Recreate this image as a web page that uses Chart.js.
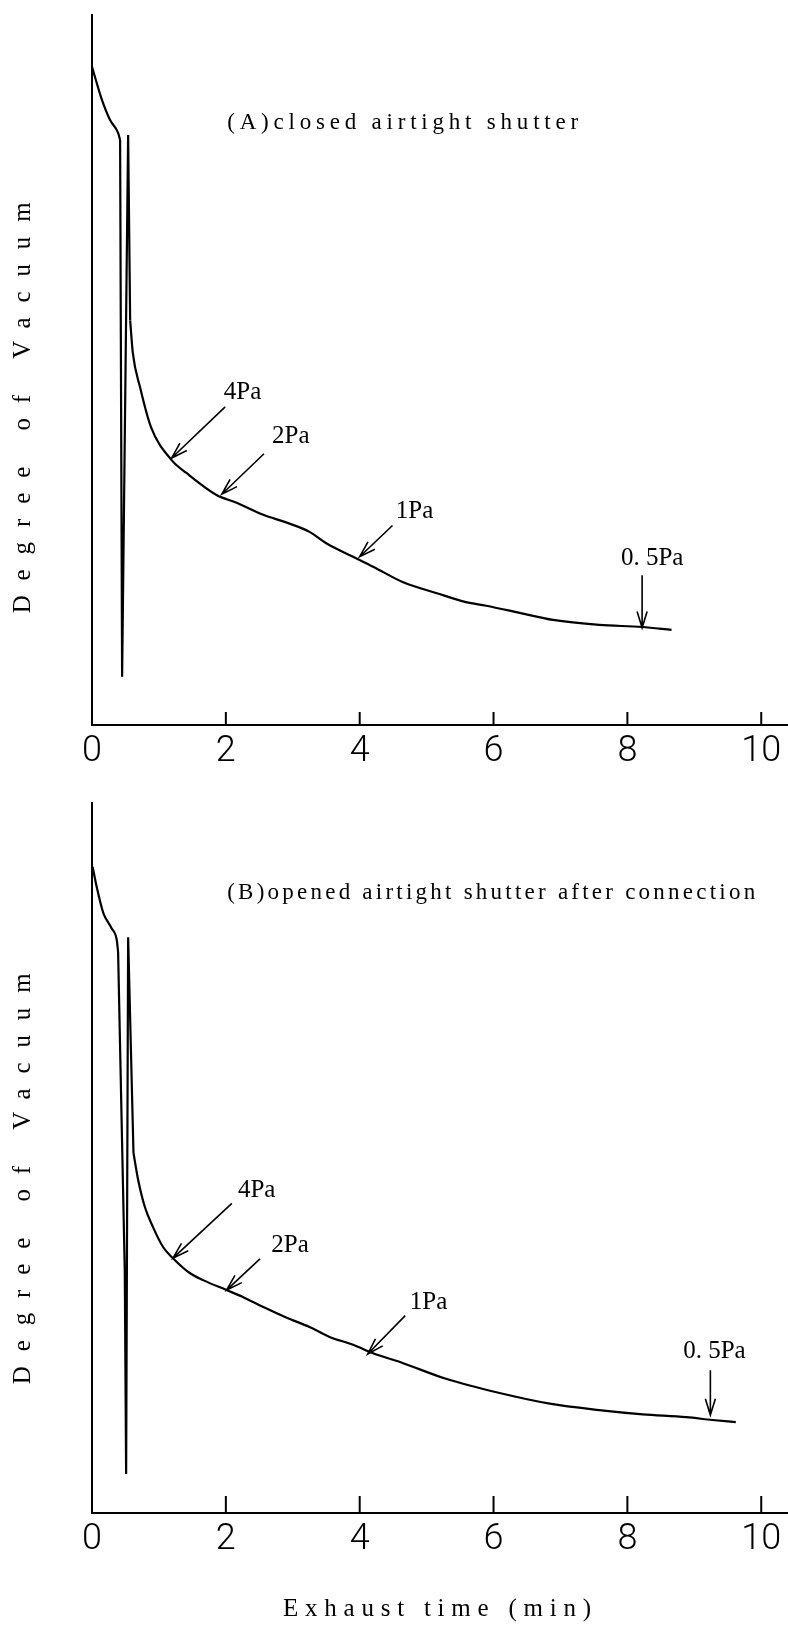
<!DOCTYPE html>
<html>
<head>
<meta charset="utf-8">
<script src="https://cdn.jsdelivr.net/npm/chart.js@4.4.0/dist/chart.umd.min.js"></script>
<style>
	html, body { margin: 0; padding: 0; background: #fff; }
	canvas { display: block; }
</style>
</head>
<body>
<canvas id="chartA" width="788" height="775"></canvas>
<canvas id="chartB" width="788" height="858"></canvas>
<script>
// exhaust time (min) / degree of vacuum (relative, 0 = x axis, 100 = top of y axis)
var timeA = [0, 0.15, 0.27, 0.39, 0.42, 0.45, 0.54, 0.57, 0.61, 0.72, 0.88, 1.19, 1.41, 1.86, 2.16, 2.56, 2.91, 3.25, 3.50, 3.90, 4.20, 4.65, 5.14, 5.59, 5.89, 6.39, 6.89, 7.58, 8.22, 8.66];
var vacuumA = [92.7, 88.0, 85.2, 83.4, 82.4, 6.8, 83.1, 57.0, 52.4, 47.5, 42.0, 37.3, 35.5, 32.4, 31.3, 29.6, 28.5, 27.2, 25.6, 23.7, 22.3, 20.1, 18.6, 17.3, 16.8, 15.8, 14.8, 14.1, 13.8, 13.4];
var spikeA = [4, 7]; // first / last index of the straight spike part

var timeB = [0.01, 0.07, 0.17, 0.29, 0.37, 0.39, 0.49, 0.51, 0.54, 0.62, 0.69, 0.79, 0.91, 1.06, 1.24, 1.46, 1.66, 2.01, 2.26, 2.56, 2.91, 3.25, 3.55, 3.90, 4.20, 4.65, 5.29, 6.09, 6.84, 7.58, 8.23, 8.88, 9.27, 9.62];
var vacuumB = [91.0, 88.2, 84.5, 82.4, 80.7, 79.0, 33.9, 5.5, 81.1, 50.7, 46.9, 43.1, 40.3, 37.5, 35.6, 33.8, 32.8, 31.4, 30.4, 29.0, 27.5, 26.2, 24.8, 23.7, 22.5, 21.1, 18.9, 16.9, 15.4, 14.5, 13.9, 13.5, 13.1, 12.8];
var spikeB = [5, 9];

var xTickValues = [0, 2, 4, 6, 8, 10];

// pressure marks: arrow tip, arrow tail, label centre (time, vacuum)
var pressureLabels = ['4Pa', '2Pa', '1Pa', '0. 5Pa'];
var tipsA = [[1.19, 37.6], [1.94, 32.5], [4.00, 23.7], [8.22, 13.7]];
var tailsA = [[1.99, 44.8], [2.57, 38.2], [4.49, 28.1], [8.22, 21.1]];
var spotsA = [[2.25, 46.9], [2.97, 40.6], [4.82, 30.1], [8.37, 23.4]];
var tipsB = [[1.21, 35.9], [2.01, 31.4], [4.12, 22.4], [9.24, 13.8]];
var tailsB = [[2.09, 43.6], [2.51, 35.8], [4.68, 27.8], [9.24, 20.1]];
var spotsB = [[2.46, 45.5], [2.96, 37.7], [5.03, 29.7], [9.30, 22.8]];

var captionA = '(A)closed airtight shutter';
var captionB = '(B)opened airtight shutter after connection';
var yTitle = 'Degree of Vacuum';
var xTitle = 'Exhaust time (min)';

function spacedText(ctx, text, x, y, width) {
	ctx.letterSpacing = '0px';
	var w = ctx.measureText(text).width;
	var sp = (width - w) / (text.length - 1);
	ctx.letterSpacing = sp + 'px';
	ctx.fillText(text, x, y);
	ctx.letterSpacing = '0px';
}

function annotator(cfg) {
	return {
		id: 'annotate',
		afterDraw: function (chart) {
			var ctx = chart.ctx, x = chart.scales.x, y = chart.scales.y;
			var base = chart.chartArea.bottom;
			ctx.save();
			ctx.strokeStyle = '#000';
			ctx.fillStyle = '#000';

			// tick marks point up into the plot
			ctx.lineWidth = 2;
			xTickValues.forEach(function (v) {
				if (v === 0) return;
				var px = x.getPixelForValue(v);
				ctx.beginPath();
				ctx.moveTo(px, base);
				ctx.lineTo(px, base - cfg.tickLen);
				ctx.stroke();
			});

			// arrows + pressure labels
			ctx.lineWidth = 1.6;
			ctx.font = '25px "Liberation Serif"';
			ctx.textAlign = 'center';
			ctx.textBaseline = 'middle';
			for (var i = 0; i < pressureLabels.length; i++) {
				var x1 = x.getPixelForValue(cfg.tails[i][0]), y1 = y.getPixelForValue(cfg.tails[i][1]);
				var x2 = x.getPixelForValue(cfg.tips[i][0]), y2 = y.getPixelForValue(cfg.tips[i][1]);
				var a = Math.atan2(y2 - y1, x2 - x1);
				ctx.beginPath();
				ctx.moveTo(x1, y1);
				ctx.lineTo(x2, y2);
				ctx.moveTo(x2 - 17 * Math.cos(a - 0.3), y2 - 17 * Math.sin(a - 0.3));
				ctx.lineTo(x2, y2);
				ctx.lineTo(x2 - 17 * Math.cos(a + 0.3), y2 - 17 * Math.sin(a + 0.3));
				ctx.stroke();
				ctx.fillText(pressureLabels[i], x.getPixelForValue(cfg.spots[i][0]), y.getPixelForValue(cfg.spots[i][1]));
			}

			// caption
			ctx.font = '23px "Liberation Serif"';
			ctx.textAlign = 'left';
			spacedText(ctx, cfg.caption, x.getPixelForValue(cfg.captionAt[0]), y.getPixelForValue(cfg.captionAt[1]), cfg.captionWidth);

			// y title, rotated
			ctx.font = '25px "Liberation Serif"';
			ctx.save();
			ctx.translate(23, y.getPixelForValue(cfg.yTitleAt));
			ctx.rotate(-Math.PI / 2);
			spacedText(ctx, yTitle, -205, 0, 411);
			ctx.restore();

			// x title (bottom chart only)
			if (cfg.xTitleY) {
				spacedText(ctx, xTitle, 283, cfg.xTitleY, 308);
			}
			ctx.restore();
		}
	};
}

function pts(time, vacuum, from, to) {
	var out = [];
	for (var i = from; i <= to; i++) out.push({ x: time[i], y: vacuum[i] });
	return out;
}

function trace(data, smooth) {
	return {
		data: data,
		borderColor: '#000',
		borderWidth: 2.2,
		pointRadius: 0,
		fill: false,
		tension: smooth ? 0.4 : 0,
		cubicInterpolationMode: smooth ? 'monotone' : 'default'
	};
}

function makeChart(id, time, vacuum, spike, cfg) {
	var last = time.length - 1;
	return new Chart(document.getElementById(id), {
		type: 'line',
		data: {
			datasets: [
				trace(pts(time, vacuum, 0, spike[0]), true),
				trace(pts(time, vacuum, spike[0], spike[1]), false),
				trace(pts(time, vacuum, spike[1], last), true)
			]
		},
		options: {
			responsive: false,
			animation: false,
			layout: { padding: { top: cfg.top, left: 0, right: 0, bottom: 0 } },
			plugins: { legend: { display: false }, tooltip: { enabled: false } },
			scales: {
				x: {
					type: 'linear',
					min: 0,
					max: 10.4,
					afterBuildTicks: function (s) { s.ticks = xTickValues.map(function (v) { return { value: v }; }); },
					afterFit: function (s) { s.height = cfg.xHeight; },
					grid: { display: false, drawTicks: false },
					border: { display: true, color: '#000', width: 2 },
					ticks: {
						color: '#000',
						padding: 5,
						maxRotation: 0,
						autoSkip: false,
						font: { family: 'Roboto', size: 36, weight: 300 }
					}
				},
				y: {
					min: 0,
					max: 100,
					afterFit: function (s) { s.width = 92; },
					grid: { display: false, drawTicks: false },
					border: { display: true, color: '#000', width: 2 },
					ticks: { display: false }
				}
			}
		},
		plugins: [annotator(cfg)]
	});
}

makeChart('chartA', timeA, vacuumA, spikeA, {
	top: 15, xHeight: 50, tickLen: 13,
	tips: tipsA, tails: tailsA, spots: spotsA,
	caption: captionA, captionAt: [2.02, 84.8], captionWidth: 351,
	yTitleAt: 44.6
});

makeChart('chartB', timeB, vacuumB, spikeB, {
	top: 28, xHeight: 120, tickLen: 17,
	tips: tipsB, tails: tailsB, spots: spotsB,
	caption: captionB, captionAt: [2.02, 87.3], captionWidth: 528,
	yTitleAt: 47.0, xTitleY: 834
});
</script>
</body>
</html>
